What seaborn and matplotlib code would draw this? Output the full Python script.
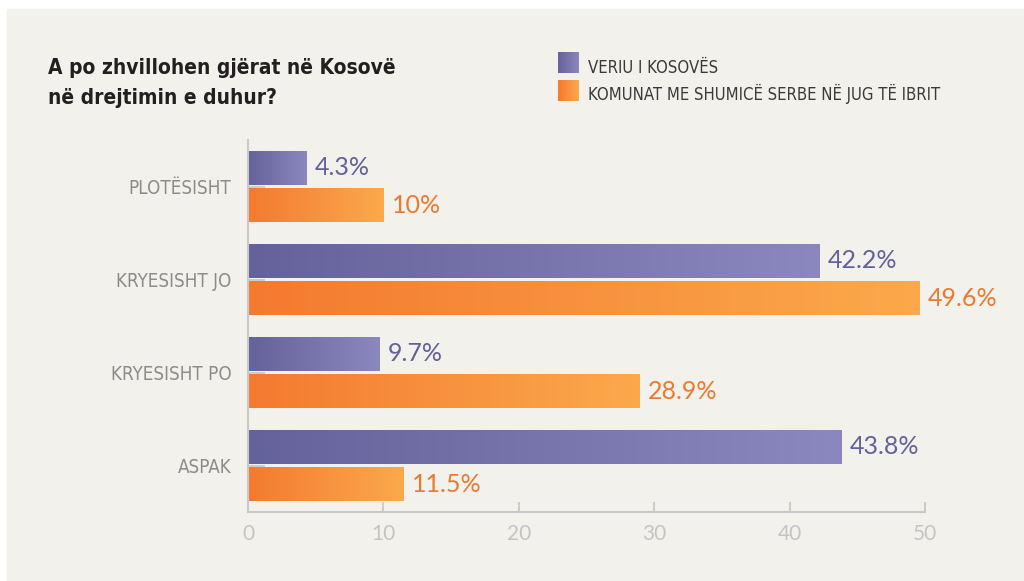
import numpy as np
import pandas as pd
import matplotlib
matplotlib.use("Agg")
import matplotlib.pyplot as plt
from matplotlib.colors import LinearSegmentedColormap
from matplotlib.patches import Rectangle
import seaborn as sns

kategorite = ['PLOTËSISHT', 'KRYESISHT JO', 'KRYESISHT PO', 'ASPAK']
grupet = ['VERIU I KOSOVËS', 'KOMUNAT ME SHUMICË SERBE NË JUG TË IBRIT']
veriu = [4.3, 42.2, 9.7, 43.8]
jugu = [10, 49.6, 28.9, 11.5]
x_ticks = [0, 10, 20, 30, 40, 50]

titulli = ['A po zhvillohen gjërat në Kosovë', 'në drejtimin e duhur?']

# ngjyrat: fillimi dhe fundi i gradientit
ngjyrat = {
    grupet[0]: ('#64629a', '#8a88be'),
    grupet[1]: ('#f47a2f', '#fba94b'),
}
ngjyrat_tekst = ['#63619b', '#ea7a30']
sfondi = '#f2f1ec'

df = pd.DataFrame({
    'kategoria': kategorite * 2,
    'grupi': [grupet[0]] * 4 + [grupet[1]] * 4,
    'vlera': veriu + jugu,
})

sns.set_theme(style='white')
plt.rcParams['font.family'] = ['DejaVu Sans']
plt.rcParams['font.stretch'] = 'condensed'

W, H = 1024, 581
fig = plt.figure(figsize=(W / 100, H / 100), dpi=100)
fig.patch.set_facecolor('white')
fig.patches.append(Rectangle((7 / W, 0), 1 - 7 / W, (H - 9) / H,
                             transform=fig.transFigure, color=sfondi, zorder=-10))

ax = fig.add_axes([248 / W, (H - 512) / H, (925 - 248) / W, (512 - 140) / H])
ax.set_facecolor('none')

sns.barplot(data=df, x='vlera', y='kategoria', hue='grupi', orient='h',
            order=kategorite, hue_order=grupet,
            palette=[ngjyrat[g][0] for g in grupet],
            width=0.8, gap=0.1, legend=False, ax=ax)

# gradient horizontal per cdo shirit
gradient = np.linspace(0, 1, 256).reshape(1, -1)
for cont, g in zip(ax.containers, grupet):
    cmap = LinearSegmentedColormap.from_list(g, ngjyrat[g])
    for p in cont.patches:
        x0, y0 = p.get_x(), p.get_y()
        w, h = p.get_width(), p.get_height()
        im = ax.imshow(gradient, extent=[x0, x0 + w, y0 + h, y0], aspect='auto',
                       cmap=cmap, zorder=2, interpolation='bicubic')
        im.set_clip_path(p)
        p.set_facecolor('none')
        p.set_edgecolor('none')

for cont, c in zip(ax.containers, ngjyrat_tekst):
    ax.bar_label(cont, labels=[f"{v:g}%" for v in cont.datavalues], padding=6,
                 color=c, fontsize=18, family=['Lato', 'DejaVu Sans'],
                 fontstretch='normal')

ax.set_xlim(0, 50)
ax.set_ylim(3.5, -0.5)
ax.set_xticks(x_ticks)
ax.set_xlabel('')
ax.set_ylabel('')
ax.set_axisbelow(True)

for s in ['top', 'right']:
    ax.spines[s].set_visible(False)
for s in ['left', 'bottom']:
    ax.spines[s].set_color('#c9c9c9')
    ax.spines[s].set_linewidth(1.5)

ax.tick_params(axis='x', direction='in', length=7, width=1.3, color='#c9c9c9',
               pad=9, labelsize=15, labelcolor='#c4c4c4', bottom=True)
ax.tick_params(axis='y', direction='in', length=12, width=1.3, color='#c9c9c9',
               pad=12, labelsize=13.5, labelcolor='#8c8c8c', left=True)
for t in ax.get_xticklabels():
    t.set_family(['Lato', 'DejaVu Sans'])
    t.set_fontstretch('normal')

# titulli
fig.text(48 / W, 1 - 74 / H, titulli[0], fontsize=15, fontweight='bold',
         color='#231f20', va='baseline', ha='left')
fig.text(48 / W, 1 - 104 / H, titulli[1], fontsize=15, fontweight='bold',
         color='#231f20', va='baseline', ha='left')

# legjenda me katrore gradienti
for i, g in enumerate(grupet):
    y_top = 52 + i * 28
    lax = fig.add_axes([558 / W, 1 - (y_top + 21) / H, 21 / W, 21 / H])
    lax.imshow(gradient, aspect='auto',
               cmap=LinearSegmentedColormap.from_list(g + '_l', ngjyrat[g]))
    lax.axis('off')
    fig.text(588 / W, 1 - (73 + i * 27) / H, g, fontsize=12, color='#3a3a3a',
             va='baseline', ha='left')

plt.savefig('out.png', dpi=100, facecolor=fig.get_facecolor())
plt.close()
